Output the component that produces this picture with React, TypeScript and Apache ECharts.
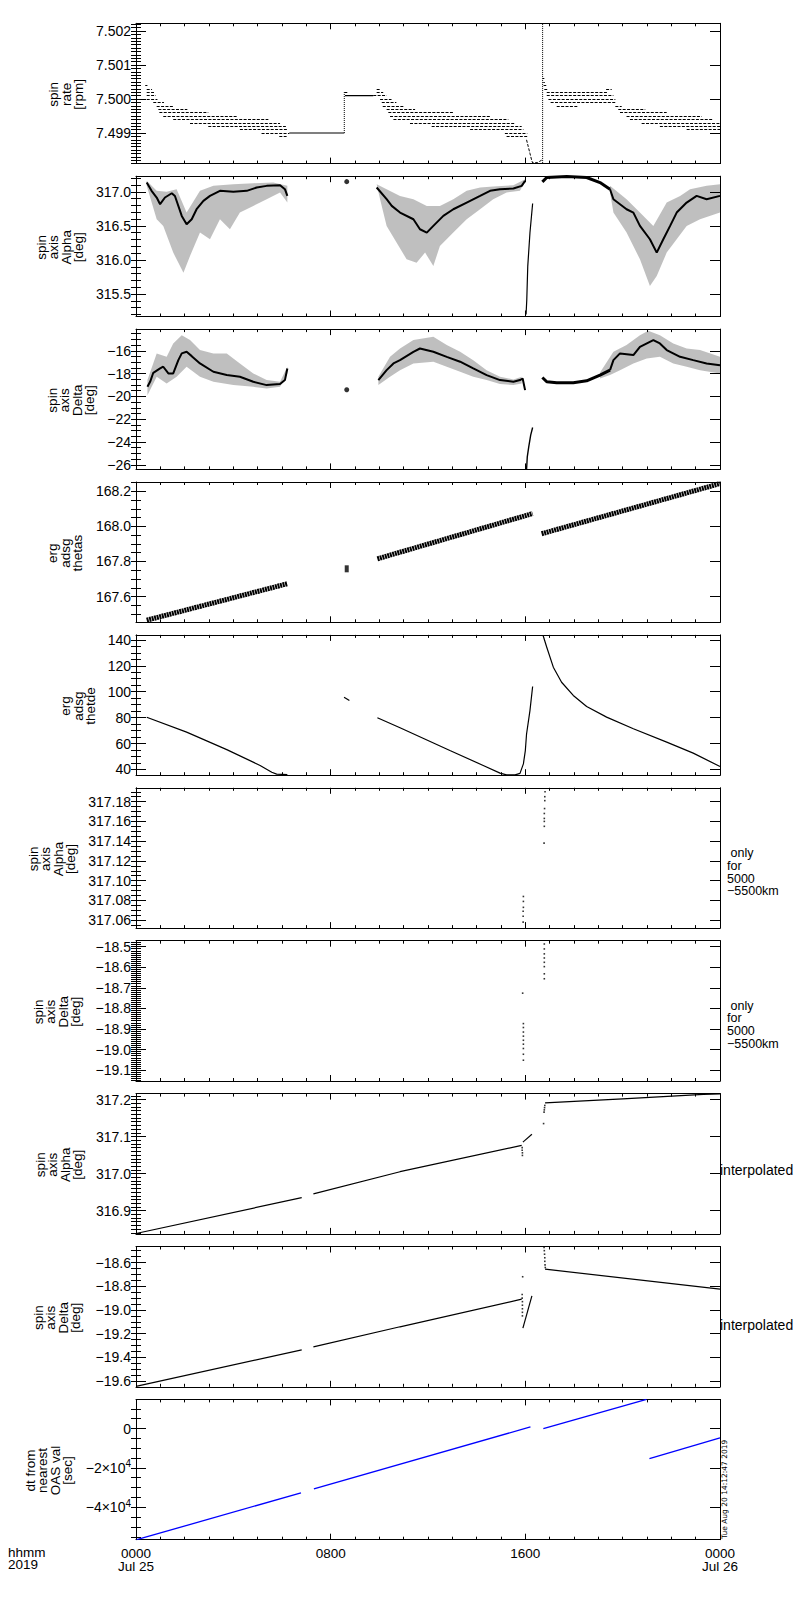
import React, { useEffect, useRef } from 'react';
import * as echarts from 'echarts';

// time axis: hours since 2019-07-25 00:00 UT
const hourTicks = [0, 8, 16, 24];
const hourLabels = ['0000\nJul 25', '0800', '1600', '0000\nJul 26'];

// ---- panel 1: spin rate [rpm], quantised runs [hStart, hEnd, rpm]
const spinRateRuns = [
  [0.38, 0.47, 7.5004], [0.44, 0.66, 7.5003], [0.44, 0.74, 7.5002], [0.44, 0.82, 7.5001],
  [0.44, 0.88, 7.5], [0.71, 1.15, 7.4999], [0.85, 1.56, 7.4998], [0.92, 2.11, 7.4997],
  [0.96, 2.97, 7.4996], [1.12, 4.14, 7.4995], [1.53, 5.44, 7.4994], [2.22, 5.92, 7.4993],
  [2.97, 6.16, 7.4992], [4.27, 6.22, 7.4991], [5.16, 6.3, 7.499], [5.89, 6.19, 7.4989],
  [8.56, 8.7, 7.5002], [9.75, 10.3, 7.5001], [9.89, 10.05, 7.5003], [9.89, 10.16, 7.5002],
  [10.03, 10.5, 7.5], [10.1, 10.7, 7.4999], [10.14, 10.99, 7.4998], [10.3, 11.47, 7.4997],
  [10.37, 13.04, 7.4996], [10.44, 14.55, 7.4995], [10.58, 15.3, 7.4994], [11.26, 15.58, 7.4993],
  [12.15, 15.85, 7.4992], [13.73, 15.92, 7.4991], [15.16, 16.08, 7.499], [15.23, 16.08, 7.4989],
  [16.72, 16.78, 7.5006], [16.74, 16.8, 7.5005], [16.75, 16.86, 7.5004], [16.78, 16.9, 7.5003],
  [16.88, 19.41, 7.5002], [19.32, 19.55, 7.5003], [16.88, 19.62, 7.5001], [16.95, 19.7, 7.5],
  [17.04, 19.75, 7.4999], [17.29, 18.18, 7.4998], [19.7, 19.96, 7.4998], [19.82, 20.93, 7.4997],
  [19.89, 21.81, 7.4996], [20.16, 23.25, 7.4995], [20.3, 23.73, 7.4994], [20.78, 24, 7.4993],
  [21.53, 24, 7.4992], [22.63, 24, 7.4991],
];
// steady stretches drawn as solid lines
const spinRateFlatLow = [[6.3, 7.499], [8.56, 7.499]];
const spinRateFlatHigh = [[8.59, 7.5001], [9.75, 7.5001]];
const spinRateDrop = [[16.05, 7.4988], [16.12, 7.4986], [16.19, 7.4984], [16.26, 7.4982], [16.3, 7.49812], [16.5, 7.49813], [16.67, 7.4982]];
const spinRateJump = [[8.56, 7.499], [8.56, 7.5002]];
const spinRateSpike = [[16.71, 7.49812], [16.71, 7.50222]];
const spinRateTicks = [7.499, 7.5, 7.501, 7.502];

// ---- panel 2: spin axis alpha [deg]
const alphaCenterA = [[0.44, 317.137], [0.64, 317.015], [0.85, 316.917], [0.99, 316.819], [1.19, 316.917], [1.47, 316.98], [1.6, 316.94], [1.88, 316.647], [2.08, 316.525], [2.29, 316.598], [2.49, 316.745], [2.77, 316.868], [3.04, 316.941], [3.45, 317.015], [4.0, 317.0], [4.55, 317.015], [4.96, 317.064], [5.37, 317.088], [5.92, 317.098], [6.12, 317.039], [6.22, 316.941]];
const alphaUpperA = [[0.44, 317.162], [0.85, 317.015], [1.26, 317.0], [1.67, 317.039], [2.08, 316.696], [2.63, 317.015], [3.18, 317.088], [4.0, 317.113], [4.82, 317.127], [5.64, 317.137], [6.22, 317.088]];
const alphaLowerA = [[0.44, 317.088], [0.85, 316.598], [1.12, 316.5], [1.53, 316.108], [1.95, 315.814], [2.22, 316.059], [2.63, 316.402], [3.04, 316.304], [3.45, 316.598], [3.86, 316.451], [4.27, 316.696], [4.82, 316.794], [5.37, 316.892], [5.92, 316.99], [6.22, 316.843]];
const alphaCenterB = [[9.89, 317.064], [10.3, 316.892], [10.51, 316.794], [10.85, 316.696], [11.4, 316.598], [11.67, 316.451], [11.95, 316.402], [12.22, 316.5], [12.63, 316.647], [13.04, 316.745], [13.59, 316.843], [14.14, 316.941], [14.55, 317.015], [14.96, 317.039], [15.51, 317.049], [15.85, 317.088], [15.99, 317.162]];
const alphaUpperB = [[9.89, 317.113], [10.85, 316.941], [11.4, 316.892], [11.95, 316.794], [12.49, 316.794], [13.04, 316.892], [13.59, 317.015], [14.14, 317.064], [14.68, 317.078], [15.51, 317.098], [15.99, 317.186]];
const alphaLowerB = [[10.03, 316.892], [10.3, 316.5], [11.12, 316.01], [11.53, 315.961], [11.88, 316.108], [12.22, 315.912], [12.49, 316.206], [13.04, 316.402], [13.59, 316.598], [14.14, 316.745], [14.68, 316.892], [15.23, 316.99], [15.78, 317.015], [15.99, 317.147]];
const alphaFall = [[16.03, 315.2], [16.06, 315.42], [16.1, 315.91], [16.19, 316.4], [16.3, 316.83]];
const alphaArcC = [[16.7, 317.147], [16.88, 317.211], [17.7, 317.225], [18.52, 317.211], [19.07, 317.137], [19.48, 317.039]];
const alphaCenterC = [[19.48, 317.039], [19.62, 316.892], [20.16, 316.745], [20.44, 316.696], [20.71, 316.5], [21.12, 316.304], [21.4, 316.108], [21.67, 316.304], [21.95, 316.5], [22.22, 316.696], [22.63, 316.843], [23.04, 316.941], [23.45, 316.892], [24.0, 316.941]];
const alphaUpperC = [[19.48, 317.088], [20.16, 316.892], [20.71, 316.696], [21.26, 316.5], [21.81, 316.843], [22.36, 316.941], [22.77, 317.039], [23.45, 317.088], [24.0, 317.113]];
const alphaLowerC = [[19.48, 316.99], [19.62, 316.696], [20.16, 316.402], [20.71, 316.01], [21.12, 315.618], [21.4, 315.765], [21.81, 316.108], [22.22, 316.304], [22.63, 316.5], [23.18, 316.598], [24.0, 316.696]];
const alphaBlob = [[8.66, 317.15]];
const alphaTicks = [315.5, 316.0, 316.5, 317.0];

// ---- panel 3: spin axis delta [deg]
const deltaCenterA = [[0.47, -19.16], [0.58, -18.72], [0.71, -17.93], [0.99, -17.55], [1.12, -17.4], [1.33, -17.99], [1.53, -17.99], [1.74, -16.82], [1.88, -16.23], [2.08, -16.09], [2.29, -16.47], [2.63, -17.11], [3.18, -17.84], [3.73, -18.13], [4.27, -18.28], [4.82, -18.72], [5.37, -19.01], [5.92, -18.92], [6.12, -18.57], [6.22, -17.55]];
const deltaUpperA = [[0.47, -18.57], [0.85, -16.23], [1.26, -16.53], [1.53, -15.36], [1.88, -14.63], [2.22, -15.06], [2.63, -15.94], [3.18, -16.23], [3.73, -16.23], [4.27, -17.11], [4.82, -17.99], [5.37, -18.57], [5.92, -18.72], [6.22, -17.4]];
const deltaLowerA = [[0.47, -19.89], [0.85, -18.28], [1.26, -18.87], [1.67, -18.28], [2.08, -17.4], [2.63, -18.28], [3.18, -18.72], [4.0, -19.01], [4.82, -19.16], [5.37, -19.3], [5.92, -19.16], [6.22, -17.99]];
const deltaCenterB = [[9.96, -18.57], [10.3, -17.7], [10.58, -17.11], [10.85, -16.82], [11.4, -16.09], [11.67, -15.8], [12.22, -16.09], [12.77, -16.53], [13.32, -16.96], [13.86, -17.55], [14.41, -18.13], [14.96, -18.57], [15.51, -18.72], [15.78, -18.57], [15.89, -18.43], [15.99, -19.45]];
const deltaUpperB = [[9.96, -18.28], [10.44, -16.53], [10.85, -15.8], [11.4, -15.06], [12.22, -14.77], [12.77, -15.5], [13.32, -16.09], [13.86, -16.82], [14.41, -17.7], [14.96, -18.28], [15.51, -18.51], [15.85, -18.28]];
const deltaLowerB = [[9.96, -19.01], [10.44, -18.28], [10.85, -17.7], [11.4, -17.11], [12.22, -16.96], [12.77, -17.4], [13.32, -17.84], [13.86, -18.28], [14.41, -18.57], [14.96, -18.92], [15.51, -19.01], [15.85, -18.87]];
const deltaFall = [[16.05, -26.41], [16.08, -25.3], [16.14, -24.42], [16.22, -23.4], [16.3, -22.73]];
const deltaArcC = [[16.7, -18.34], [16.88, -18.72], [17.29, -18.81], [17.97, -18.81], [18.52, -18.63], [19.07, -18.13], [19.48, -17.7]];
const deltaCenterC = [[19.48, -17.7], [19.62, -16.82], [19.89, -16.23], [20.44, -16.38], [20.71, -15.65], [21.26, -15.06], [21.53, -15.36], [21.81, -15.94], [22.36, -16.53], [22.9, -16.82], [23.45, -17.11], [24.0, -17.26]];
const deltaUpperC = [[19.07, -17.9], [19.62, -16.09], [20.16, -15.5], [20.71, -14.63], [21.05, -14.25], [21.53, -14.63], [22.08, -15.36], [22.63, -15.8], [23.18, -15.94], [24.0, -16.53]];
const deltaLowerC = [[19.07, -18.43], [19.48, -18.13], [19.89, -17.7], [20.44, -17.11], [20.99, -16.67], [21.53, -16.53], [22.08, -17.11], [22.63, -17.4], [23.18, -17.7], [24.0, -17.99]];
const deltaBlob = [[8.66, -19.42]];
const deltaTicks = [-26, -24, -22, -20, -18, -16];

// ---- panel 4: erg adsg thetas
const thetasA = [[0.44, 167.465], [6.22, 167.673]];
const thetasB = [[9.92, 167.815], [16.3, 168.073]];
const thetasC = [[16.67, 167.958], [24, 168.244]];
const thetasBlob = [[8.66, 167.758]];
const thetasTicks = [167.6, 167.8, 168.0, 168.2];

// ---- panel 5: erg adsg thetde
const thetdeA = [[0.44, 80.3], [2.08, 68.8], [3.73, 55.3], [5.1, 43.1], [5.58, 37.9], [5.78, 36.4], [6.22, 36.1]];
const thetdeShort = [[8.55, 95.7], [8.77, 93.2]];
const thetdeB = [[9.92, 79.9], [10.85, 72.2], [12.9, 54.6], [14.27, 43.1], [14.96, 37.2], [15.23, 35.8], [15.58, 35.8], [15.78, 37], [15.92, 44.3], [16.0, 54.6], [16.05, 67.4], [16.19, 85.4], [16.3, 104]];
const thetdeC = [[16.73, 143.3], [16.88, 134.3], [17.15, 118.9], [17.49, 107.3], [17.97, 97.1], [18.52, 88.6], [19.34, 80.4], [20.44, 71.4], [21.81, 61.1], [22.9, 52.6], [24, 42.3]];
const thetdeTicks = [40, 60, 80, 100, 120, 140];

// ---- panel 6: spin axis alpha, 5000-5500 km only
const alphaNearDots = [[16.81, 317.19], [16.8, 317.185], [16.8, 317.181], [16.79, 317.173], [16.78, 317.168], [16.78, 317.163], [16.78, 317.16], [16.78, 317.155], [16.77, 317.138], [15.92, 317.084], [15.92, 317.079], [15.92, 317.073], [15.91, 317.069], [15.91, 317.064], [15.91, 317.058]];
const alphaNearTicks = [317.06, 317.08, 317.1, 317.12, 317.14, 317.16, 317.18];

// ---- panel 7: spin axis delta, 5000-5500 km only
const deltaNearDots = [[16.78, -18.487], [16.78, -18.511], [16.78, -18.535], [16.78, -18.555], [16.78, -18.576], [16.78, -18.597], [16.78, -18.632], [16.78, -18.656], [15.89, -18.726], [15.92, -18.874], [15.92, -18.893], [15.92, -18.915], [15.92, -18.935], [15.92, -18.955], [15.92, -18.974], [15.92, -18.995], [15.92, -19.023], [15.92, -19.052]];
const deltaNearTicks = [-19.1, -19.0, -18.9, -18.8, -18.7, -18.6, -18.5];

// ---- panel 8: spin axis alpha, interpolated
const alphaInterpA = [[0, 316.838], [6.81, 316.935]];
const alphaInterpB = [[7.29, 316.945], [10.85, 317.005], [15.85, 317.076]];
const alphaInterpShort = [[15.9, 317.085], [16.27, 317.106]];
const alphaInterpC = [[16.81, 317.191], [20.0, 317.202], [23.32, 317.214], [24, 317.215]];
const alphaInterpDots = [[15.87, 317.07], [15.87, 317.063], [15.88, 317.056], [15.88, 317.049], [16.75, 317.135], [16.77, 317.166], [16.78, 317.172], [16.79, 317.178], [16.8, 317.184]];
const alphaInterpTicks = [316.9, 317.0, 317.1, 317.2];

// ---- panel 9: spin axis delta, interpolated
const deltaInterpA = [[0, -19.645], [6.81, -19.336]];
const deltaInterpB = [[7.29, -19.311], [10.85, -19.142], [15.85, -18.909]];
const deltaInterpShort = [[15.9, -19.153], [16.27, -18.881]];
const deltaInterpC = [[16.81, -18.656], [24, -18.824]];
const deltaInterpDots = [[15.87, -18.87], [15.87, -18.9], [15.88, -18.93], [15.88, -18.96], [15.88, -18.99], [15.88, -19.02], [15.88, -19.05], [15.89, -18.72], [16.77, -18.474], [16.78, -18.5], [16.79, -18.53], [16.8, -18.56], [16.8, -18.59], [16.81, -18.62], [16.82, -18.642]];
const deltaInterpTicks = [-19.6, -19.4, -19.2, -19.0, -18.8, -18.6];

// ---- panel 10: dt from nearest OAS val [sec]
const dtSeg1 = [[0.03, -56480], [6.78, -32650]];
const dtSeg2 = [[7.31, -30610], [16.21, 816]];
const dtSeg3 = [[16.74, 0], [20.98, 14800]];
const dtSeg4 = [[21.1, -15300], [24, -4800]];
const dtTicks = [-40000, -20000, 0];

const FONT = 'Liberation Sans';
const GRID_TOP = 23.3;
const GRID_STEP = 152.9;
const GRID_H = 140.3;
const TITLE_STEP = 12.6;
const minus = (s: string) => s.replace('-', '\u2212');

// lastX: x of the centre of the title's last (right-most) line
const panels = [
  { title: ['spin', 'rate', '[rpm]'], lastX: 79, min: 7.4981, max: 7.50223, ticks: spinRateTicks, minor: 0.0001, digits: 3 },
  { title: ['spin', 'axis', 'Alpha', '[deg]'], lastX: 79, min: 315.17, max: 317.23, ticks: alphaTicks, minor: 0.1, digits: 1 },
  { title: ['spin', 'axis', 'Delta', '[deg]'], lastX: 90, min: -26.4, max: -14.1, ticks: deltaTicks, minor: 0.5, digits: 0 },
  { title: ['erg', 'adsg', 'thetas'], lastX: 78, min: 167.453, max: 168.253, ticks: thetasTicks, minor: 0.05, digits: 1 },
  { title: ['erg', 'adsg', 'thetde'], lastX: 91, min: 35.6, max: 143.8, ticks: thetdeTicks, minor: 5, digits: 0 },
  { title: ['spin', 'axis', 'Alpha', '[deg]'], lastX: 71, min: 317.052, max: 317.194, ticks: alphaNearTicks, minor: 0.005, digits: 2 },
  { title: ['spin', 'axis', 'Delta', '[deg]'], lastX: 76, min: -19.153, max: -18.471, ticks: deltaNearTicks, minor: 0.01, digits: 1 },
  { title: ['spin', 'axis', 'Alpha', '[deg]'], lastX: 78, min: 316.837, max: 317.216, ticks: alphaInterpTicks, minor: 0.01, digits: 1 },
  { title: ['spin', 'axis', 'Delta', '[deg]'], lastX: 76, min: -19.648, max: -18.465, ticks: deltaInterpTicks, minor: 0.05, digits: 1 },
  { title: ['dt from', 'nearest', 'OAS val', '[sec]'], lastX: 68, min: -56480, max: 14800, ticks: dtTicks, minor: 5000, digits: -1 },
];

const minorValues = (min: number, max: number, step: number) => {
  const out: number[] = [];
  for (let k = Math.ceil(min / step - 1e-9); k * step <= max + step * 1e-6; k++) out.push(+(k * step).toFixed(8));
  return out;
};

const dtLabel = (v: number) => (v === 0 ? '0' : `${v < 0 ? '\u2212' : ''}${Math.abs(v) / 1e4}\u00d710{sup|4}`);

const curve = (p: number, data: number[][], width = 1.2, extra: any = {}, color = '#000') => ({
  type: 'line', xAxisIndex: 2 * p, yAxisIndex: 4 * p, data, showSymbol: false, symbol: 'none', silent: true,
  lineStyle: { color, width, ...extra },
});
const dots = (p: number, data: number[][], size: any = 1.6, symbol = 'rect') => ({
  type: 'scatter', xAxisIndex: 2 * p, yAxisIndex: 4 * p, data, symbol, symbolSize: size, silent: true,
  itemStyle: { color: '#000' },
});
const band = (p: number, upper: number[][], lower: number[][]) => ({
  type: 'custom', xAxisIndex: 2 * p, yAxisIndex: 4 * p, data: [upper[0]], silent: true, clip: true,
  renderItem: (_params: any, api: any) => {
    const pts = upper.map((d) => api.coord(d)).concat(lower.slice().reverse().map((d) => api.coord(d)));
    return { type: 'polygon', shape: { points: pts }, style: { fill: 'rgba(0,0,0,0.25)' } };
  },
});

const buildOption = () => {
  const grids = panels.map((_, i) => ({ left: 136, width: 584, top: GRID_TOP + i * GRID_STEP, height: GRID_H }));

  const xAxes = panels.flatMap((_, i) => {
    const last = i === panels.length - 1;
    const base = {
      type: 'value', gridIndex: i, min: 0, max: 24, interval: 8, splitLine: { show: false },
      axisLine: { show: true, onZero: false, lineStyle: { color: '#000', width: 1 } },
      axisTick: { inside: true, length: 6, lineStyle: { color: '#000' } },
      minorTick: { show: true, splitNumber: 8, length: 3, lineStyle: { color: '#000' } },
    };
    return [
      {
        ...base, position: 'bottom',
        axisLabel: last
          ? {
              show: true, color: '#000', fontFamily: FONT, fontSize: 13.5, lineHeight: 12.5, margin: 8,
              showMinLabel: true, showMaxLabel: true,
              formatter: (v: number) => hourLabels[hourTicks.indexOf(v)] ?? '',
            }
          : { show: false },
      },
      { ...base, position: 'top', axisLabel: { show: false } },
    ];
  });

  const yAxes = panels.flatMap((pn, i) => {
    const minor = minorValues(pn.min, pn.max, pn.minor);
    const base = { type: 'value', gridIndex: i, min: pn.min, max: pn.max, splitLine: { show: false } };
    const line = { show: true, onZero: false, lineStyle: { color: '#000', width: 1 } };
    return [
      {
        ...base, position: 'left', axisLine: line,
        axisTick: { inside: true, length: 10, customValues: pn.ticks, lineStyle: { color: '#000' } },
        axisLabel: {
          customValues: pn.ticks, color: '#000', fontFamily: FONT, fontSize: 14, margin: 5,
          formatter: (v: number) => (pn.digits < 0 ? dtLabel(v) : minus(v.toFixed(pn.digits))),
          rich: { sup: { fontSize: 10, fontFamily: FONT, color: '#000', padding: [0, 0, 8, 0] } },
        },
      },
      {
        ...base, position: 'left', axisLine: { show: false }, axisLabel: { show: false },
        axisTick: { inside: true, length: 5, customValues: minor, lineStyle: { color: '#000' } },
      },
      {
        ...base, position: 'right', axisLine: line, axisLabel: { show: false },
        axisTick: { inside: true, length: 10, customValues: pn.ticks, lineStyle: { color: '#000' } },
      },
      {
        ...base, position: 'right', axisLine: { show: false }, axisLabel: { show: false },
        axisTick: { inside: true, length: 5, customValues: minor, lineStyle: { color: '#000' } },
      },
    ];
  });

  const dash = { type: [3, 1.4] };
  const series: any[] = [
    // panel 1
    {
      type: 'lines', coordinateSystem: 'cartesian2d', xAxisIndex: 0, yAxisIndex: 0, silent: true,
      data: spinRateRuns.map(([a, b, v]) => ({ coords: [[a, v], [b, v]] })),
      lineStyle: { color: '#000', width: 1, opacity: 1, ...dash },
    },
    curve(0, spinRateFlatLow, 1.1), curve(0, spinRateFlatHigh, 1.1),
    curve(0, spinRateDrop, 1, dash),
    curve(0, spinRateJump, 1, { type: 'dotted' }),
    curve(0, spinRateSpike, 1, { type: 'dotted' }),
    // panel 2
    band(1, alphaUpperA, alphaLowerA), band(1, alphaUpperB, alphaLowerB), band(1, alphaUpperC, alphaLowerC),
    curve(1, alphaCenterA, 2), curve(1, alphaCenterB, 2), curve(1, alphaCenterC, 2),
    curve(1, alphaArcC, 3), curve(1, alphaFall, 1.2),
    dots(1, alphaBlob, 5, 'circle'),
    // panel 3
    band(2, deltaUpperA, deltaLowerA), band(2, deltaUpperB, deltaLowerB), band(2, deltaUpperC, deltaLowerC),
    curve(2, deltaCenterA, 2), curve(2, deltaCenterB, 2), curve(2, deltaCenterC, 2),
    curve(2, deltaArcC, 3), curve(2, deltaFall, 1.4),
    dots(2, deltaBlob, 5, 'circle'),
    // panel 4
    curve(3, thetasA, 5, { type: [2, 0.6] }), curve(3, thetasB, 5, { type: [2, 0.6] }), curve(3, thetasC, 5, { type: [2, 0.6] }),
    dots(3, thetasBlob, [4, 7]),
    // panel 5
    curve(4, thetdeA), curve(4, thetdeShort), curve(4, thetdeB), curve(4, thetdeC),
    // panel 6, 7
    dots(5, alphaNearDots), dots(6, deltaNearDots),
    // panel 8
    curve(7, alphaInterpA), curve(7, alphaInterpB), curve(7, alphaInterpShort), curve(7, alphaInterpC),
    dots(7, alphaInterpDots),
    // panel 9
    curve(8, deltaInterpA), curve(8, deltaInterpB), curve(8, deltaInterpShort), curve(8, deltaInterpC),
    dots(8, deltaInterpDots),
    // panel 10
    curve(9, dtSeg1, 1.3, {}, '#0000ff'), curve(9, dtSeg2, 1.3, {}, '#0000ff'),
    curve(9, dtSeg3, 1.3, {}, '#0000ff'), curve(9, dtSeg4, 1.3, {}, '#0000ff'),
  ];

  const txt = (x: number, y: number, text: string, extra: any = {}, props: any = {}) => ({
    type: 'text', x, y, silent: true, ...props,
    style: { text, fill: '#000', fontFamily: FONT, fontSize: 14, verticalAlign: 'middle', align: 'left', ...extra },
  });

  // rotated multi-line axis titles
  const titles = panels.map((pn, i) => {
    const n = pn.title.length;
    const cx = pn.lastX - ((n - 1) * TITLE_STEP) / 2;
    const cy = GRID_TOP + i * GRID_STEP + GRID_H / 2 + 1;
    return txt(cx, cy, pn.title.join('\n'), { align: 'center', lineHeight: TITLE_STEP, fontSize: 13.5 }, { rotation: Math.PI / 2 });
  });

  return {
    animation: false,
    backgroundColor: '#fff',
    textStyle: { fontFamily: FONT },
    grid: grids,
    xAxis: xAxes,
    yAxis: yAxes,
    series,
    graphic: [
      ...titles,
      txt(8, 1546, 'hhmm\n2019', { verticalAlign: 'top', lineHeight: 12.5, fontSize: 13.5 }),
      txt(727, 847, '\u00a0only\nfor\n5000\n\u22125500km', { verticalAlign: 'top', lineHeight: 12.6, fontSize: 12.5 }),
      txt(727, 999.5, '\u00a0only\nfor\n5000\n\u22125500km', { verticalAlign: 'top', lineHeight: 12.6, fontSize: 12.5 }),
      txt(720, 1170, 'interpolated'),
      txt(720, 1325, 'interpolated'),
      txt(724, 1539, 'Tue Aug 20 14:12:47 2019', { fontSize: 7.5, fontFamily: 'DejaVu Sans' }, { rotation: Math.PI / 2 }),
    ],
  };
};

export default function App() {
  const chartRef = useRef<HTMLDivElement>(null);

  useEffect(() => {
    document.body.style.margin = '0';
    if (!chartRef.current) return;
    const chart = echarts.init(chartRef.current, null, { renderer: 'svg' });
    chart.setOption(buildOption() as any);
    return () => {
      chart.dispose();
    };
  }, []);

  return <div ref={chartRef} style={{ width: 800, height: 1600 }} />;
}
